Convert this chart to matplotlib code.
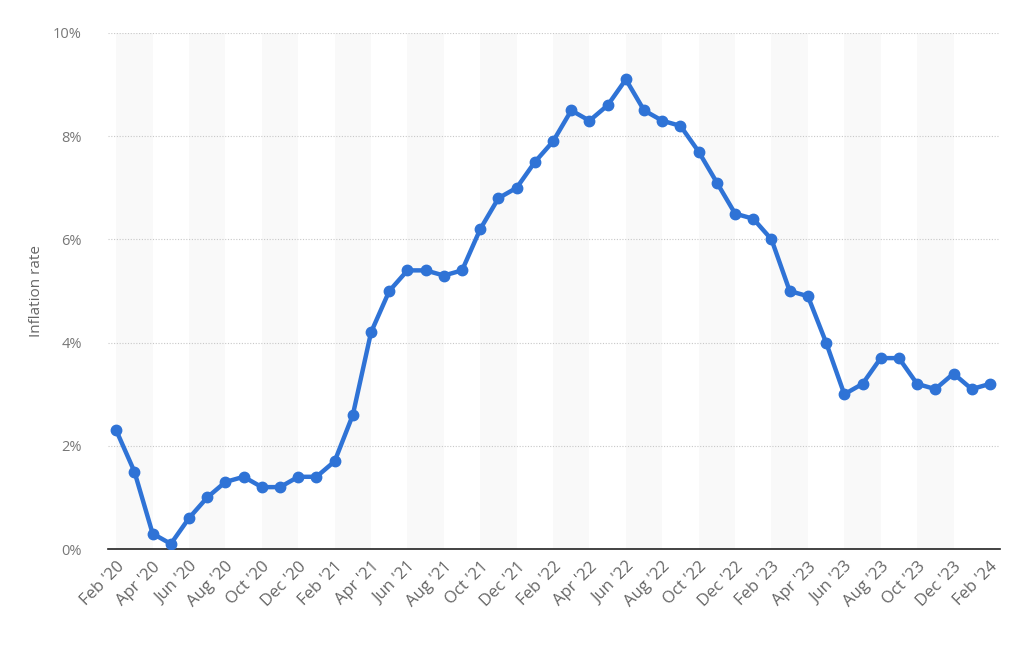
import matplotlib
matplotlib.use("Agg")
import matplotlib.pyplot as plt
import numpy as np
from matplotlib.ticker import FuncFormatter

plt.rcParams["font.family"] = ["Open Sans", "DejaVu Sans"]

# monthly inflation rate, Feb 2020 - Feb 2024
months = ["Feb '20", "Mar '20", "Apr '20", "May '20", "Jun '20", "Jul '20", "Aug '20", "Sep '20",
          "Oct '20", "Nov '20", "Dec '20", "Jan '21", "Feb '21", "Mar '21", "Apr '21", "May '21",
          "Jun '21", "Jul '21", "Aug '21", "Sep '21", "Oct '21", "Nov '21", "Dec '21", "Jan '22",
          "Feb '22", "Mar '22", "Apr '22", "May '22", "Jun '22", "Jul '22", "Aug '22", "Sep '22",
          "Oct '22", "Nov '22", "Dec '22", "Jan '23", "Feb '23", "Mar '23", "Apr '23", "May '23",
          "Jun '23", "Jul '23", "Aug '23", "Sep '23", "Oct '23", "Nov '23", "Dec '23", "Jan '24",
          "Feb '24"]
rate = [2.3, 1.5, 0.3, 0.1, 0.6, 1.0, 1.3, 1.4, 1.2, 1.2, 1.4, 1.4, 1.7, 2.6, 4.2, 5.0,
        5.4, 5.4, 5.3, 5.4, 6.2, 6.8, 7.0, 7.5, 7.9, 8.5, 8.3, 8.6, 9.1, 8.5, 8.3, 8.2,
        7.7, 7.1, 6.5, 6.4, 6.0, 5.0, 4.9, 4.0, 3.0, 3.2, 3.7, 3.7, 3.2, 3.1, 3.4, 3.1,
        3.2]
yticks = [0, 2, 4, 6, 8, 10]

x = np.arange(len(months))

fig = plt.figure(figsize=(10.24, 6.47), dpi=100)
ax = fig.add_axes([0.1055, 0.1514, 0.871, 0.7976])

# alternating background bands
for start in range(0, len(months), 4):
    ax.axvspan(start, min(start + 2, len(months) - 1), color="#f9f9f9", lw=0, zorder=0)

ax.plot(x, rate, color="#2f73d6", lw=3.2, marker="o", markersize=7.5, zorder=3,
        solid_joinstyle="round")

ax.set_xlim(-0.45, 48.55)
ax.set_ylim(0, 10)
ax.set_yticks(yticks)
ax.yaxis.set_major_formatter(FuncFormatter(lambda v, pos: f"{v:.0f}%"))
ax.grid(axis="y", color="#c8c8c8", linestyle=(0, (1, 1.5)), lw=0.8, zorder=1)

ax.set_xticks(x[::2])
ax.set_xticklabels(months[::2], rotation=45, ha="right", rotation_mode="anchor",
                   fontsize=12, color="#666666")
ax.tick_params(axis="x", length=0, pad=7)
ax.tick_params(axis="y", length=0, pad=19, labelsize=10.5, labelcolor="#777777")

for s in ["top", "right", "left"]:
    ax.spines[s].set_visible(False)
ax.spines["bottom"].set_color("#222222")
ax.spines["bottom"].set_linewidth(1.2)

ax.set_ylabel("Inflation rate", fontsize=11, color="#666666")
ax.yaxis.set_label_coords(-0.072, 0.5)

fig.savefig("out.png", dpi=100)
